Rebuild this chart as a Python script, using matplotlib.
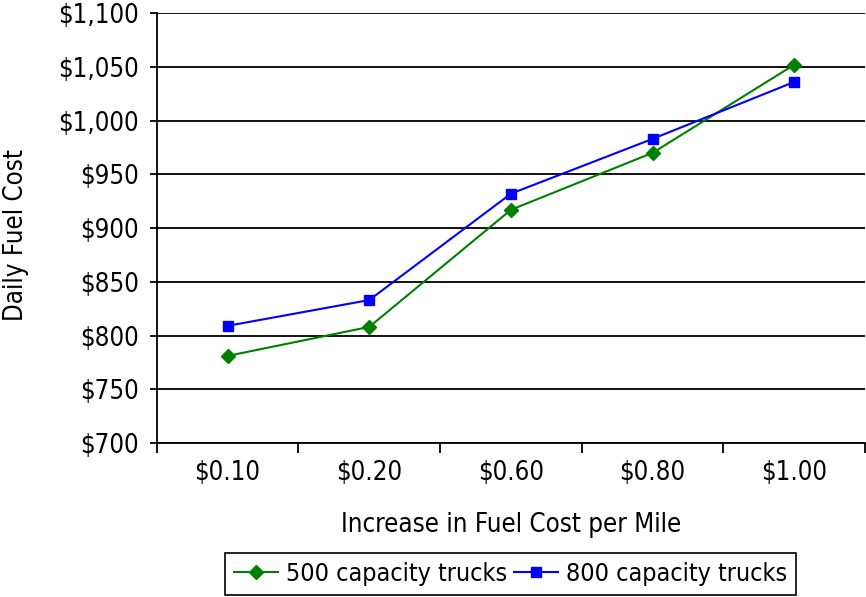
import matplotlib
matplotlib.use("Agg")
import matplotlib.pyplot as plt
from matplotlib.ticker import FuncFormatter, FixedLocator

plt.rcParams['font.family'] = ['DejaVu Sans']
plt.rcParams['font.stretch'] = 'condensed'

categories = ["$0.10", "$0.20", "$0.60", "$0.80", "$1.00"]
trucks_500 = [781, 808, 917, 970, 1052]
trucks_800 = [809, 833, 932, 983, 1036]

fig = plt.figure(figsize=(8.66, 5.97), dpi=100)
ax = fig.add_axes([0.181, 0.258, 0.818, 0.72])

x = list(range(len(categories)))
ax.plot(x, trucks_500, color="#008000", marker="D", markersize=7, linewidth=1.5,
        label="500 capacity trucks", clip_on=False)
ax.plot(x, trucks_800, color="#0000FF", marker="s", markersize=7, linewidth=1.5,
        label="800 capacity trucks", clip_on=False)

ax.set_xlim(-0.5, len(categories) - 0.5)
ax.set_ylim(700, 1100)
ax.set_yticks(range(700, 1101, 50))
ax.yaxis.set_major_formatter(FuncFormatter(lambda v, p: "${:,.0f}".format(v)))
ax.yaxis.grid(True, color="black", linewidth=1.3)
ax.set_axisbelow(True)

ax.set_xticks(x)
ax.set_xticklabels(categories)
ax.xaxis.set_minor_locator(FixedLocator([i - 0.5 for i in range(len(categories) + 1)]))
ax.tick_params(axis="x", which="major", length=0, pad=12, labelsize=18.5)
ax.tick_params(axis="x", which="minor", length=7, width=1.3, direction="out")
ax.tick_params(axis="y", length=5, width=1.3, direction="out", labelsize=18.5, pad=8)

for s in ["top", "right"]:
    ax.spines[s].set_visible(False)
ax.spines["left"].set_linewidth(1.3)
ax.spines["bottom"].set_linewidth(1.3)

ax.set_xlabel("Increase in Fuel Cost per Mile", fontsize=18.5)
ax.set_ylabel("Daily Fuel Cost", fontsize=18.5)
ax.xaxis.set_label_coords(0.5, -0.19, transform=ax.transAxes)
ax.xaxis.label.set_va("center")
ax.yaxis.set_label_coords(-0.199, 0.484, transform=ax.transAxes)
ax.yaxis.label.set_va("center")

leg = fig.legend(loc="lower center", bbox_to_anchor=(0.5895, 0.0), ncol=2,
                 fontsize=18, frameon=True, fancybox=False, edgecolor="black",
                 framealpha=1, handlelength=1.76, columnspacing=0.28,
                 handletextpad=0.3, borderpad=0.36, borderaxespad=0.1)
leg.get_frame().set_linewidth(1.2)

fig.savefig("out.png", dpi=100)
